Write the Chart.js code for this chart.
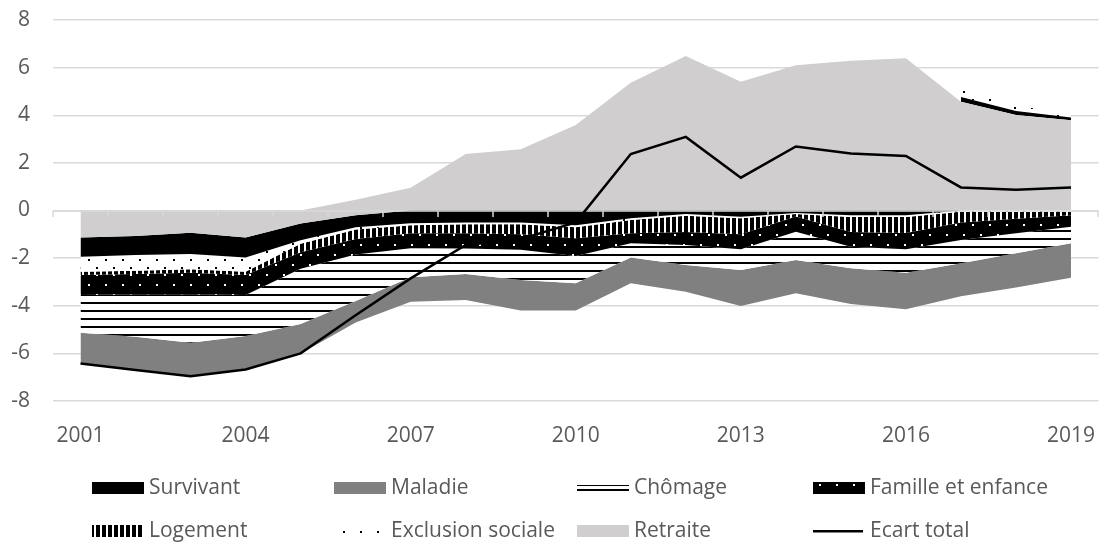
<!DOCTYPE html>
<html>
<head>
<meta charset="utf-8">
<script src="https://cdn.jsdelivr.net/npm/chart.js@4.4.0/dist/chart.umd.min.js"></script>
<style>
  html, body { margin: 0; padding: 0; background: #fff; }
</style>
</head>
<body>
<canvas id="chart" width="1117" height="546"></canvas>
<script>
// contributions by branch, 2001-2019 (points of %)
const years = ['2001', '2002', '2003', '2004', '2005', '2006', '2007', '2008', '2009', '2010',
  '2011', '2012', '2013', '2014', '2015', '2016', '2017', '2018', '2019'];

const retraiteNeg = [-1.13, -1.07, -0.93, -1.13, -0.55, -0.20, 0, 0, 0, 0, 0, 0, 0, 0, 0, 0, 0, 0, 0];
const retraitePos = [0, 0, 0, 0, 0, 0.45, 0.96, 2.37, 2.57, 3.59, 5.37, 6.49, 5.41, 6.10, 6.29, 6.39, 4.57, 4.01, 3.79];
const survivantNeg = [-0.81, -0.80, -0.90, -0.84, -0.70, -0.50, -0.54, -0.50, -0.50, -0.62, -0.33, -0.15, -0.26, -0.10, -0.20, -0.20, 0, 0, 0];
const survivantPos = [null, null, null, null, null, null, null, null, null, null, null, null, null, null, null, null, 0.20, 0.17, 0.12];
const exclusionNeg = [-0.63, -0.66, -0.64, -0.60, -0.15, -0.10, -0.08, -0.08, -0.08, -0.08, -0.07, -0.07, -0.07, -0.05, -0.07, -0.07, -0.05, -0.05, -0.05];
const exclusionPos = [null, null, null, null, null, null, null, null, null, null, null, null, null, null, null, null, 0.32, 0.25, 0.08];
const logement = [-0.14, -0.14, -0.14, -0.14, -0.35, -0.40, -0.34, -0.38, -0.42, -0.47, -0.56, -0.68, -0.67, -0.10, -0.63, -0.68, -0.45, -0.30, -0.15];
const famille = [-0.84, -0.85, -0.91, -0.84, -0.70, -0.65, -0.63, -0.64, -0.65, -0.74, -0.42, -0.55, -0.63, -0.64, -0.62, -0.68, -0.74, -0.61, -0.48];
const chomage = [-1.58, -1.78, -2.03, -1.72, -2.32, -1.95, -1.21, -1.07, -1.27, -1.15, -0.59, -0.84, -0.87, -1.19, -0.91, -0.98, -0.98, -0.84, -0.70];
const maladie = [-1.30, -1.40, -1.43, -1.43, -1.23, -0.90, -1.03, -1.09, -1.28, -1.14, -1.09, -1.12, -1.51, -1.40, -1.50, -1.54, -1.38, -1.43, -1.44];
const ecartTotal = [-6.43, -6.70, -6.96, -6.68, -6.00, -4.40, -2.85, -1.45, -1.20, -0.50, 2.37, 3.09, 1.38, 2.69, 2.39, 2.29, 0.97, 0.87, 0.97];

const FONT = "'Open Sans', sans-serif";
const TEXT = '#595959';
const GRID = '#d9d9d9';

function makePattern(w, h, draw) {
  const c = document.createElement('canvas');
  c.width = w;
  c.height = h;
  const g = c.getContext('2d');
  draw(g, w, h);
  return g.createPattern(c, 'repeat');
}

const fills = {
  survivant: '#000000',
  maladie: '#808080',
  retraite: '#d0cece',
  // horizontal rules
  chomage: makePattern(8, 8, (g, w, h) => {
    g.fillStyle = '#fff'; g.fillRect(0, 0, w, h);
    g.fillStyle = '#000'; g.fillRect(0, 6, w, 2);
  }),
  // white dots on black
  famille: makePattern(17, 20, (g, w, h) => {
    g.fillStyle = '#000'; g.fillRect(0, 0, w, h);
    g.fillStyle = '#fff'; g.fillRect(3, 4, 2, 2); g.fillRect(11, 14, 2, 2);
  }),
  // sparse black dots on white
  exclusion: makePattern(17, 16, (g, w, h) => {
    g.fillStyle = '#fff'; g.fillRect(0, 0, w, h);
    g.fillStyle = '#000'; g.fillRect(3, 3, 2, 2); g.fillRect(11, 11, 2, 2);
  }),
  // vertical bars
  logement: makePattern(6, 6, (g, w, h) => {
    g.fillStyle = '#fff'; g.fillRect(0, 0, w, h);
    g.fillStyle = '#000'; g.fillRect(0, 0, 4, h);
  })
};

function area(label, data, fill, stack, target) {
  return {
    label, data, stack,
    backgroundColor: fill,
    borderColor: 'transparent',
    borderWidth: 0,
    pointRadius: 0,
    tension: 0,
    fill: target
  };
}

const datasets = [
  // below zero
  area('Retraite', retraiteNeg, fills.retraite, 'neg', 'origin'),
  area('Survivant', survivantNeg, fills.survivant, 'neg', '-1'),
  area('Exclusion sociale', exclusionNeg, fills.exclusion, 'neg', '-1'),
  area('Logement', logement, fills.logement, 'neg', '-1'),
  area('Famille et enfance', famille, fills.famille, 'neg', '-1'),
  area('Chômage', chomage, fills.chomage, 'neg', '-1'),
  area('Maladie', maladie, fills.maladie, 'neg', '-1'),
  // above zero
  area('Retraite', retraitePos, fills.retraite, 'pos', 'origin'),
  area('Survivant', survivantPos, fills.survivant, 'pos', '-1'),
  area('Exclusion sociale', exclusionPos, fills.exclusion, 'pos', '-1'),
  {
    label: 'Ecart total',
    data: ecartTotal,
    stack: 'ecart',
    order: -1,
    borderColor: '#000',
    borderWidth: 2.5,
    pointRadius: 0,
    tension: 0,
    fill: false
  }
];

// horizontal axis drawn through zero, with tick marks between categories
const zeroAxis = {
  id: 'zeroAxis',
  beforeDatasetDraw(chart, args) {
    if (args.index !== datasets.length - 1) return;
    const { ctx, chartArea, scales } = chart;
    const y0 = Math.round(scales.y.getPixelForValue(0));
    const step = (chartArea.right - chartArea.left) / years.length;
    ctx.save();
    ctx.strokeStyle = GRID;
    ctx.lineWidth = 1.5;
    ctx.beginPath();
    ctx.moveTo(chartArea.left, y0);
    ctx.lineTo(chartArea.right, y0);
    for (let i = 0; i <= years.length; i++) {
      const x = Math.round(chartArea.left + i * step);
      ctx.moveTo(x, y0);
      ctx.lineTo(x, y0 + 6);
    }
    ctx.stroke();
    ctx.restore();
  }
};

const legendItems = [
  { label: 'Survivant', key: 'box', fill: fills.survivant },
  { label: 'Maladie', key: 'box', fill: fills.maladie },
  { label: 'Chômage', key: 'rules' },
  { label: 'Famille et enfance', key: 'box', fill: fills.famille },
  { label: 'Logement', key: 'box', fill: fills.logement },
  { label: 'Exclusion sociale', key: 'box', fill: fills.exclusion },
  { label: 'Retraite', key: 'box', fill: fills.retraite },
  { label: 'Ecart total', key: 'line' }
];
const legendCols = [92, 334, 577, 813];
const legendRows = [488, 531];

const bottomLegend = {
  id: 'bottomLegend',
  afterDraw(chart) {
    const ctx = chart.ctx;
    ctx.save();
    legendItems.forEach((it, i) => {
      const x = legendCols[i % 4];
      const y = legendRows[Math.floor(i / 4)];
      if (it.key === 'box') {
        ctx.fillStyle = it.fill;
        ctx.fillRect(x, y - 6, 52, 12);
      } else if (it.key === 'rules') {
        ctx.fillStyle = '#000';
        ctx.fillRect(x, y - 3, 52, 1);
        ctx.fillRect(x, y + 1, 52, 2);
      } else {
        ctx.fillStyle = '#000';
        ctx.fillRect(x, y - 1, 50, 2.5);
      }
      ctx.fillStyle = TEXT;
      ctx.font = '21px ' + FONT;
      ctx.textBaseline = 'middle';
      ctx.fillText(it.label, x + 57, y);
    });
    ctx.restore();
  }
};

new Chart(document.getElementById('chart'), {
  type: 'line',
  data: { labels: years, datasets },
  options: {
    responsive: false,
    animation: false,
    layout: { padding: { top: 20, bottom: 100, left: 0, right: 0 } },
    plugins: {
      legend: { display: false },
      tooltip: { enabled: false }
    },
    scales: {
      x: {
        offset: true,
        grid: { display: false, drawTicks: false },
        border: { display: false },
        ticks: {
          autoSkip: false,
          maxRotation: 0,
          padding: 22,
          color: TEXT,
          font: { family: FONT, size: 21 },
          callback: (v, i) => (i % 3 === 0 ? years[i] : '')
        },
        afterFit: (scale) => { scale.height = 45; }
      },
      y: {
        stacked: true,
        min: -8,
        max: 8,
        grid: { color: GRID, lineWidth: 1.5, drawTicks: false },
        border: { display: false },
        ticks: {
          stepSize: 2,
          padding: 23,
          color: TEXT,
          font: { family: FONT, size: 21 }
        },
        afterFit: (scale) => {
          scale.width = 53;
          scale.paddingTop = 0;
          scale.paddingBottom = 0;
        }
      }
    }
  },
  plugins: [zeroAxis, bottomLegend]
});
</script>
</body>
</html>
